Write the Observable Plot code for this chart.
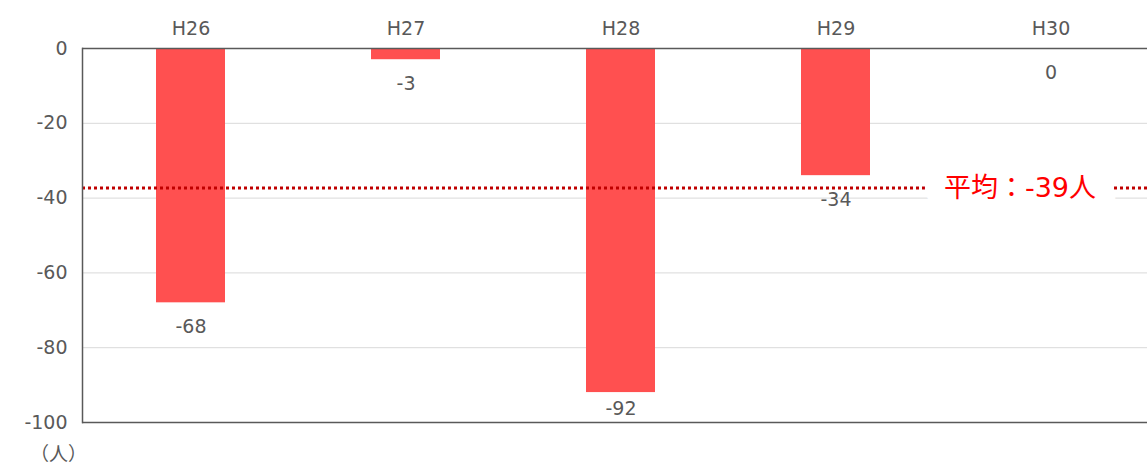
<!DOCTYPE html>
<html>
<head>
<meta charset="utf-8">
<script src="https://cdn.jsdelivr.net/npm/d3@7"></script>
<script src="https://cdn.jsdelivr.net/npm/@observablehq/plot@0.6"></script>
<style>
  html, body { margin: 0; padding: 0; background: #fff; }
</style>
</head>
<body>
<div id="chart"></div>
<script>
const years = ["H26", "H27", "H28", "H29", "H30"];
const values = [-68, -3, -92, -34, 0];
const yTicks = [0, -20, -40, -60, -80, -100];
const gridTicks = [-20, -40, -60, -80];
const averageLabel = "平均：-39人";
const averageLineValue = -37.3;
const unitLabel = "（人）";

const data = years.map((y, i) => ({year: y, value: values[i]}));

const chart = Plot.plot({
  width: 1147,
  height: 468,
  marginTop: 48,
  marginBottom: 46,
  marginLeft: 82,
  marginRight: -12,
  style: {fontFamily: "'DejaVu Sans', 'Noto Sans CJK JP', sans-serif", fontSize: "19px", color: "#595959", background: "#fff", overflow: "hidden"},
  x: {domain: years, paddingInner: 0.68, paddingOuter: 0.34, label: null},
  y: {domain: [-100, 0], label: null},
  marks: [
    Plot.gridY({ticks: gridTicks, stroke: "#d9d9d9", strokeOpacity: 1, strokeWidth: 1}),
    Plot.barY(data, {x: "year", y1: 0, y2: "value", fill: "#FF5050"}),
    Plot.text(data, {filter: d => d.value > -90, x: "year", y: "value", text: d => String(d.value), dy: 24, fill: "#595959", fontSize: 19}),
    Plot.text(data, {filter: d => d.value <= -90, x: "year", y: "value", text: d => String(d.value), dy: 16, fill: "#595959", fontSize: 19}),
    Plot.ruleY([averageLineValue], {stroke: "#C00000", strokeWidth: 3, strokeDasharray: "3,3"}),
    Plot.text([averageLabel], {x: () => "H30", y: () => averageLineValue, text: d => d, dx: -31, fill: "#FF0000", fontSize: 27, stroke: "white", strokeWidth: 40, strokeLinejoin: "round"}),
    Plot.ruleY([0, -100], {stroke: "#595959", strokeWidth: 1.5}),
    Plot.frame({anchor: "left", stroke: "#595959", strokeWidth: 1.5}),
    Plot.axisX({anchor: "top", tickSize: 0, tickPadding: 14, fontSize: 19, label: null}),
    Plot.axisY({ticks: yTicks, tickSize: 0, tickPadding: 15, fontSize: 19, label: null, tickFormat: d => String(d)}),
    Plot.text([unitLabel], {frameAnchor: "bottom-left", text: d => d, dx: -24, dy: 38, fontSize: 19, fill: "#595959", textAnchor: "middle"})
  ]
});
document.getElementById("chart").appendChild(chart);
</script>
</body>
</html>
